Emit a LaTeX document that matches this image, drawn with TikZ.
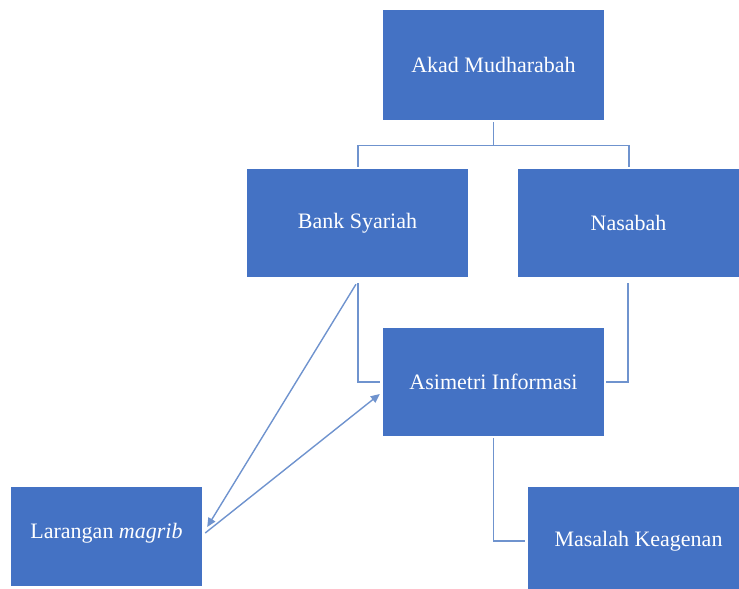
\documentclass[tikz,border=0pt]{standalone}
\usepackage{fontspec}
\setmainfont{Liberation Serif}
\usetikzlibrary{calc,arrows.meta}
\definecolor{boxblue}{HTML}{4472C4}
\definecolor{linkblue}{HTML}{6F93CE}
\begin{document}
\begin{tikzpicture}[x=1pt,y=-1pt,
  box/.style={rectangle,fill=boxblue,draw=none,text=white,font=\fontsize{22}{26}\selectfont,
    minimum width=221pt,minimum height=108pt,inner sep=0pt},
  link/.style={draw=linkblue,line width=1.4pt},
  arr/.style={link,-{Triangle[length=9pt,width=8pt]}}]
\useasboundingbox (0,0) rectangle (739,589);
\node[box,minimum height=110pt] (akad) at (493.5,65) {Akad Mudharabah};
\node[box] (bank) at (357.5,223) {Bank Syariah};
\node[box] (nasabah) at (628.5,223) {Nasabah};
\node[box] (asim) at (493.5,382) {Asimetri Informasi};
\node[box] (masalah) at (638.5,541) {Masalah Keagenan};
\node[box,minimum width=191pt,minimum height=99pt,text depth=12pt] (larangan) at (106.5,536.5) {Larangan \textit{magrib}};
% tree from Akad
\coordinate (fork) at ($(akad.south)+(0,25)$);
\draw[link] ($(akad.south)+(0,2)$) -- (fork);
\draw[link] (fork) -| ($(bank.north)+(0.5,-2)$);
\draw[link] (fork) -| ($(nasabah.north)+(0.5,-2)$);
% to Asimetri
\draw[link] ($(bank.south)+(0.5,6)$) |- ($(asim.west)+(-3,0)$);
\draw[link] ($(nasabah.south)+(-0.5,6)$) |- ($(asim.east)+(2,0)$);
\draw[link] ($(asim.south)+(0,2)$) |- ($(masalah.west)+(-3,0)$);
% arrows
\draw[arr] ($(bank.south)+(-1.5,7)$) -- ($(larangan.east)+(5,-9.5)$);
\draw[arr] ($(larangan.east)+(3,-3.5)$) -- ($(asim.west)+(-3,12)$);
\end{tikzpicture}
\end{document}
